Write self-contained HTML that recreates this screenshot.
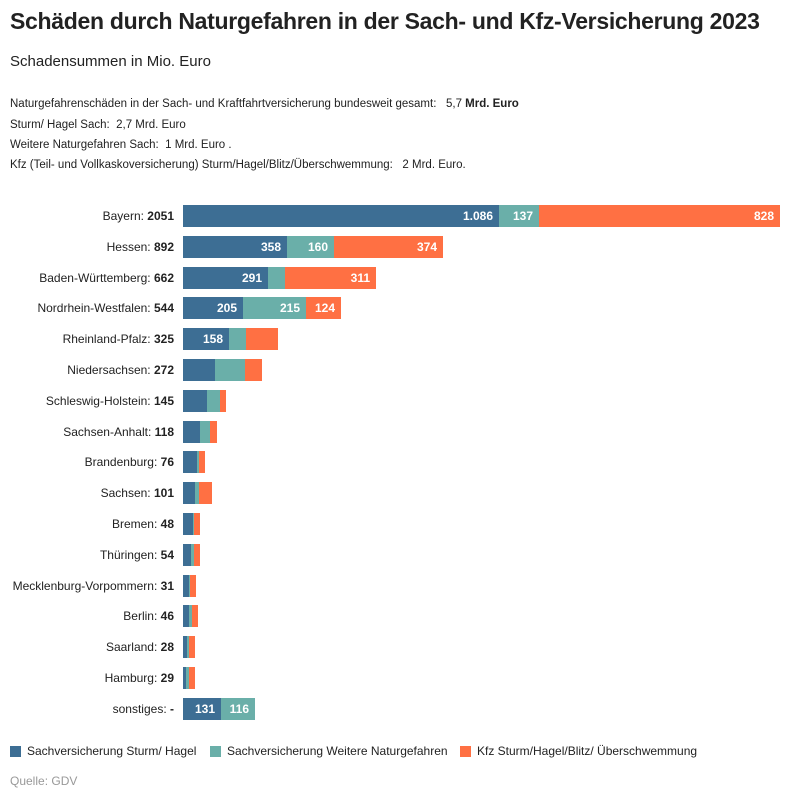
<!DOCTYPE html>
<html><head><meta charset="utf-8"><style>
body{margin:0;width:800px;height:800px;background:#fff;font-family:"Liberation Sans",sans-serif;color:#222;position:relative;overflow:hidden}
.a{position:absolute;white-space:nowrap}
h1{position:absolute;left:10px;top:8px;margin:0;font-size:23px;font-weight:bold;letter-spacing:-0.3px}
.lbl{position:absolute;right:626px;font-size:12px;line-height:22px}
.bar{position:absolute;height:22px}
.b{background:#3d6e94}.t{background:#6aafa9}.o{background:#ff7043}
.v{color:#fff;font-size:12px;font-weight:bold;line-height:22px;text-align:right;padding-right:6px;box-sizing:border-box;overflow:hidden}
.n{font-size:11.5px;line-height:14px}
</style></head><body>
<h1>Schäden durch Naturgefahren in der Sach- und Kfz-Versicherung 2023</h1>
<div class="a" style="left:10px;top:53px;font-size:15px">Schadensummen in Mio. Euro</div>
<div class="a n" style="left:10px;top:97px">Naturgefahrenschäden in der Sach- und Kraftfahrtversicherung bundesweit gesamt: &nbsp; 5,7 <b>Mrd. Euro</b></div>
<div class="a n" style="left:10px;top:118px">Sturm/ Hagel Sach: &nbsp;2,7 Mrd. Euro</div>
<div class="a n" style="left:10px;top:138px">Weitere Naturgefahren Sach: &nbsp;1 Mrd. Euro .</div>
<div class="a n" style="left:10px;top:158px">Kfz (Teil- und Vollkaskoversicherung) Sturm/Hagel/Blitz/Überschwemmung: &nbsp; 2 Mrd. Euro.</div>
<div id="c"></div>
<div class="a" style="left:10px;top:746px;width:11px;height:11px;background:#3d6e94"></div>
<div class="a" style="left:27px;top:744px;font-size:12px">Sachversicherung Sturm/ Hagel</div>
<div class="a" style="left:210px;top:746px;width:11px;height:11px;background:#6aafa9"></div>
<div class="a" style="left:227px;top:744px;font-size:12px">Sachversicherung Weitere Naturgefahren</div>
<div class="a" style="left:460px;top:746px;width:11px;height:11px;background:#ff7043"></div>
<div class="a" style="left:477px;top:744px;font-size:12px">Kfz Sturm/Hagel/Blitz/ Überschwemmung</div>
<div class="a" style="left:10px;top:774px;font-size:12px;color:#999">Quelle: GDV</div>
<script>
var d=[["Bayern","2051",[499,539,780],["1.086","137","828"]],
["Hessen","892",[287,334,443],["358","160","374"]],
["Baden-Württemberg","662",[268,285,376],["291","","311"]],
["Nordrhein-Westfalen","544",[243,306,341],["205","215","124"]],
["Rheinland-Pfalz","325",[229,246,278],["158","",""]],
["Niedersachsen","272",[215,245,262]],
["Schleswig-Holstein","145",[207,220,225]],
["Sachsen-Anhalt","118",[200,210,217]],
["Brandenburg","76",[197,199,205]],
["Sachsen","101",[195,199,212]],
["Bremen","48",[193,194,197]],
["Thüringen","54",[191,194,199]],
["Mecklenburg-Vorpommern","31",[189,189.6,192]],
["Berlin","46",[189,192,196]],
["Saarland","28",[187,189,191]],
["Hamburg","29",[186,189,191]],
["sonstiges","-",[221,255,255],["131","116",""]]];
var h="",cl=["b","t","o"];
d.forEach(function(r,i){var y=Math.round(205+i*30.8);
h+='<div class="lbl" style="top:'+y+'px">'+r[0]+': <b>'+r[1]+'</b></div>';
var x=183;for(var k=0;k<3;k++){var w=r[2][k]-x;if(w>0){h+='<div class="bar v '+cl[k]+'" style="top:'+y+'px;left:'+x+'px;width:'+w+'px">'+(r[3]?r[3][k]:"")+'</div>';}x=r[2][k];}});
document.getElementById("c").innerHTML=h;
</script>
</body></html>
